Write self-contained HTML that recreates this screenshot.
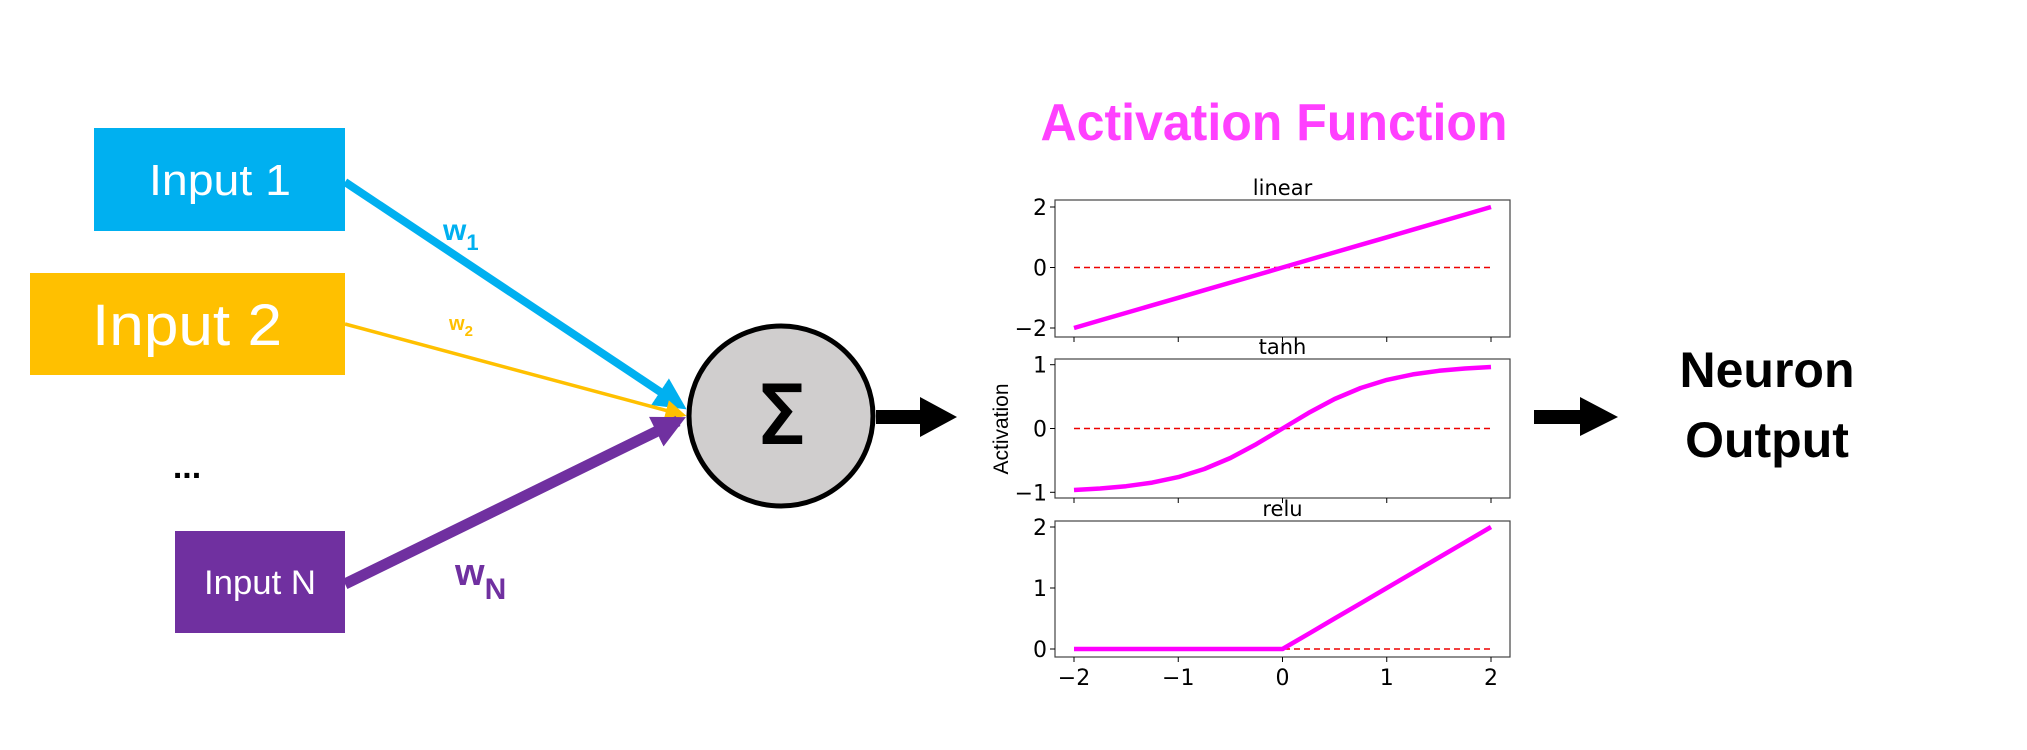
<!DOCTYPE html>
<html><head><meta charset="utf-8"><style>
html,body{margin:0;padding:0;background:#fff;}
svg{display:block;font-family:"Liberation Sans",sans-serif;}
</style></head><body>
<svg id="root" width="2027" height="750" viewBox="0 0 2027 750" xmlns="http://www.w3.org/2000/svg">
<defs>
<marker id="mb" markerWidth="4" markerHeight="4" refX="3" refY="2" orient="auto" markerUnits="strokeWidth"><path d="M0,0 L4,2 L0,4 Z" fill="#00b0f0"/></marker>
<marker id="mg" markerWidth="6" markerHeight="6" refX="5" refY="3" orient="auto" markerUnits="strokeWidth"><path d="M0,0 L6,3 L0,6 Z" fill="#ffc000"/></marker>
<marker id="mp" markerWidth="3" markerHeight="3" refX="2.2" refY="1.5" orient="auto" markerUnits="strokeWidth"><path d="M0,0 L3,1.5 L0,3 Z" fill="#7030a0"/></marker>
</defs>
<g><rect x="94" y="128" width="251" height="103" fill="#00b0f0"/><text x="220" y="195" font-size="44" fill="#fff" text-anchor="middle" textLength="142" lengthAdjust="spacingAndGlyphs">Input 1</text></g>
<g><rect x="30" y="273" width="315" height="102" fill="#ffc000"/><text x="187" y="345" font-size="58" fill="#fff" text-anchor="middle" textLength="190" lengthAdjust="spacingAndGlyphs">Input 2</text></g>
<g><rect x="175" y="531" width="170" height="102" fill="#7030a0"/><text x="260" y="594" font-size="34" fill="#fff" text-anchor="middle" textLength="112" lengthAdjust="spacingAndGlyphs">Input N</text></g>
<text x="187" y="478" font-size="34" font-weight="bold" text-anchor="middle">...</text>
<line x1="345" y1="182" x2="680" y2="405" stroke="#00b0f0" stroke-width="8" marker-end="url(#mb)"/>
<line x1="345" y1="324" x2="683" y2="415" stroke="#ffc000" stroke-width="3.5" marker-end="url(#mg)"/>
<line x1="345" y1="584" x2="678" y2="421" stroke="#7030a0" stroke-width="11" marker-end="url(#mp)"/>
<text x="443" y="240" font-size="30" font-weight="bold" fill="#00b0f0">w<tspan font-size="22" dy="10">1</tspan></text>
<text x="449" y="330" font-size="20" font-weight="bold" fill="#ffc000">w<tspan font-size="15" dy="6">2</tspan></text>
<text x="455" y="585" font-size="38" font-weight="bold" fill="#7030a0">w<tspan font-size="30" dy="14">N</tspan></text>
<ellipse cx="781" cy="416" rx="92" ry="90" fill="#d0cece" stroke="#000" stroke-width="5"/>
<text x="781" y="443" font-size="80" text-anchor="middle" font-family="'DejaVu Sans',sans-serif" stroke="#000" stroke-width="2">Σ</text>
<path d="M876,410 L920,410 L920,397 L957,417 L920,437 L920,424 L876,424 Z"/>
<path d="M1534,410 L1580,410 L1580,397 L1618,417 L1580,436 L1580,424 L1534,424 Z"/>
<text x="1767" y="387" font-size="50" font-weight="bold" text-anchor="middle">Neuron</text>
<text x="1767" y="457" font-size="50" font-weight="bold" text-anchor="middle">Output</text>
<text x="1274" y="140" font-size="52" font-weight="bold" fill="#ff40ff" text-anchor="middle" textLength="467" lengthAdjust="spacingAndGlyphs">Activation Function</text>
<text transform="translate(1008,429) rotate(-90)" font-size="21" text-anchor="middle">Activation</text>
<g id="charts"></g>
</svg>
<script>
const xTicks = [-2, -1, 0, 1, 2];
const xs = [-2,-1.75,-1.5,-1.25,-1,-0.75,-0.5,-0.25,0,0.25,0.5,0.75,1,1.25,1.5,1.75,2];
const linearVals = [-2,-1.75,-1.5,-1.25,-1,-0.75,-0.5,-0.25,0,0.25,0.5,0.75,1,1.25,1.5,1.75,2];
const tanhVals = [-0.964,-0.941,-0.905,-0.848,-0.762,-0.635,-0.462,-0.245,0,0.245,0.462,0.635,0.762,0.848,0.905,0.941,0.964];
const reluVals = [0,0,0,0,0,0,0,0,0,0.25,0.5,0.75,1,1.25,1.5,1.75,2];
const panelTitles = ["linear", "tanh", "relu"];
const yTicksLinear = [-2, 0, 2];
const yTicksTanh = [-1, 0, 1];
const yTicksRelu = [0, 1, 2];
const NS = "http://www.w3.org/2000/svg";
const g = document.getElementById("charts");
function mk(tag, attrs, parent){const e=document.createElementNS(NS,tag);for(const k in attrs)e.setAttribute(k,attrs[k]);(parent||g).appendChild(e);return e;}
const L=1055,R=1510;
const xScale = v => 1074 + (v + 2) / 4 * (1491 - 1074);
const panels = [
  {top:200,bot:337,vals:linearVals,ticks:yTicksLinear,ymin:-2,ymax:2,py0:328,py1:207},
  {top:359,bot:498,vals:tanhVals,ticks:yTicksTanh,ymin:-0.964,ymax:0.964,py0:490,py1:367},
  {top:521,bot:657,vals:reluVals,ticks:yTicksRelu,ymin:0,ymax:2,py0:649,py1:527}
];
panels.forEach((p,i)=>{
  const ys = v => p.py0 + (v - p.ymin)/(p.ymax - p.ymin)*(p.py1 - p.py0);
  const pg = mk("g",{});
  
  
  const fr = mk("rect",{x:L,y:p.top,width:R-L,height:p.bot-p.top,fill:"none",stroke:"#444","stroke-width":1.2},pg);
  
  
  const t = mk("text",{x:(L+R)/2,y:p.top-5,"font-size":21,"text-anchor":"middle","font-family":"'DejaVu Sans',sans-serif"},pg);
  t.textContent = panelTitles[i];
  
  
  p.ticks.forEach(v=>{
    const y=ys(v);
    const tk = mk("line",{x1:L-5,x2:L,y1:y,y2:y,stroke:"#000","stroke-width":1},pg);
    
    
    const tl = mk("text",{x:L-8,y:y+8,"font-size":22,"text-anchor":"end","font-family":"'DejaVu Sans',sans-serif"},pg);
    tl.textContent = v<0 ? "\u2212"+Math.abs(v) : String(v);
    
    
  });
  xTicks.forEach(v=>{
    const x=xScale(v);
    const tk = mk("line",{x1:x,x2:x,y1:p.bot,y2:p.bot+5,stroke:"#000","stroke-width":1},pg);
    
    
    if(i===2){
      const tl = mk("text",{x:x,y:p.bot+28,"font-size":22,"text-anchor":"middle","font-family":"'DejaVu Sans',sans-serif"},pg);
      tl.textContent = v<0 ? "\u2212"+Math.abs(v) : String(v);
      
      
    }
  });
  const zl = mk("line",{x1:xScale(xs[0]),x2:xScale(xs[xs.length-1]),y1:ys(0),y2:ys(0),stroke:"#e00","stroke-width":1.5,"stroke-dasharray":"6,4"},pg);
  
  
  const d = xs.map((x,j)=>(j?"L":"M")+xScale(x).toFixed(1)+","+ys(p.vals[j]).toFixed(1)).join(" ");
  const ln = mk("path",{d:d,fill:"none",stroke:"#ff00ff","stroke-width":4.5,"stroke-linejoin":"round"},pg);
  
  
});
</script>
</body></html>
